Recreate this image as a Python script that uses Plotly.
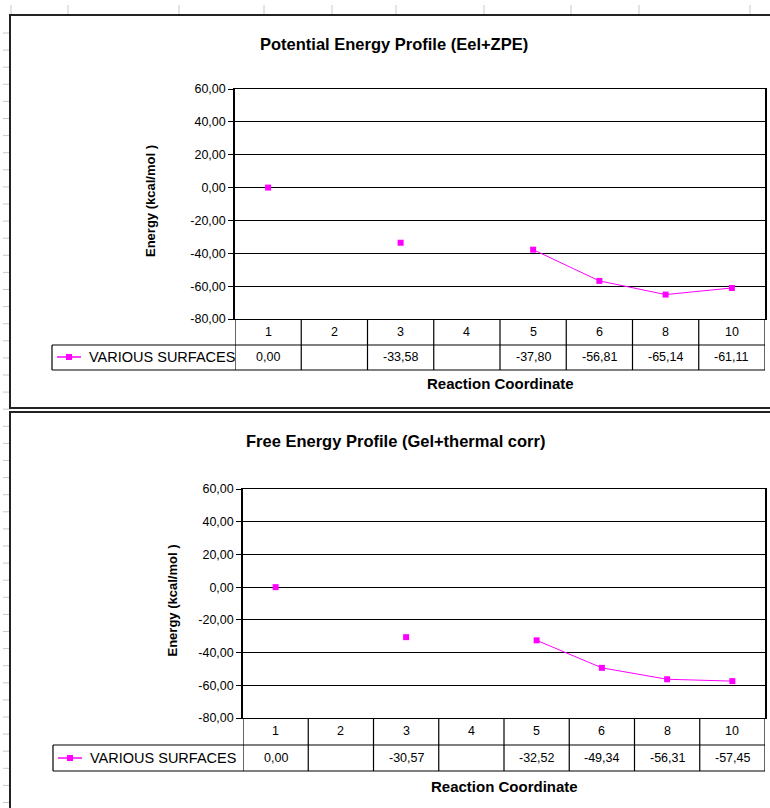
import plotly.graph_objects as go

# ---- data -------------------------------------------------------------
categories = ["1", "2", "3", "4", "5", "6", "8", "10"]
potential_energy = [0.00, None, -33.58, None, -37.80, -56.81, -65.14, -61.11]
free_energy = [0.00, None, -30.57, None, -32.52, -49.34, -56.31, -57.45]
y_ticks = [60, 40, 20, 0, -20, -40, -60, -80]
y_tick_labels = ["60,00", "40,00", "20,00", "0,00", "-20,00", "-40,00", "-60,00", "-80,00"]
series_name = "VARIOUS SURFACES"
titles = ["Potential Energy Profile (Eel+ZPE)", "Free Energy Profile (Gel+thermal corr)"]
x_title = "Reaction Coordinate"
y_title = "Energy (kcal/mol )"

W, H = 770, 808
MAGENTA = "#FF00FF"
FONT = "Liberation Sans, Arial, sans-serif"


def px(x):
    return x / W


def py(y):
    return 1 - y / H


# pixel geometry of each chart block
blocks = [
    dict(frame=(10, 15, 780, 408), title_y=44, title_x=394,
         plot=(235, 89, 765, 319), row_mid=(332, 357), row_bot=370,
         legend_x=52, xt_y=383, yt_x=150, values=potential_energy),
    dict(frame=(10, 412, 780, 820), title_y=441, title_x=396,
         plot=(243, 489, 765, 718), row_mid=(731, 758), row_bot=771,
         legend_x=53, xt_y=786, yt_x=172, values=free_energy),
]


def fmt(v):
    return "" if v is None else f"{v:.2f}".replace(".", ",")


def label(**kw):
    base = dict(showarrow=False, xanchor="center", yanchor="middle")
    base.update(kw)
    return base


fig = go.Figure()
shapes, annotations = [], []
layout_axes = {}

# light spreadsheet cell guides behind the charts
for x in [11, 68, 179, 264, 332, 396, 484, 571, 639, 750]:
    shapes.append(dict(type="line", xref="paper", yref="paper",
                       x0=px(x), x1=px(x), y0=py(5), y1=py(15),
                       line=dict(color="#c8c8c8", width=1), layer="below"))
y = 33
while y < H:
    shapes.append(dict(type="line", xref="paper", yref="paper",
                       x0=px(3), x1=px(10), y0=py(y), y1=py(y),
                       line=dict(color="#c8c8c8", width=1), layer="below"))
    y += 17.1

for k, b in enumerate(blocks):
    n = "" if k == 0 else str(k + 1)
    xa, ya = "x" + n, "y" + n
    l, t, r, bt = b["plot"]

    fig.add_trace(go.Scatter(
        x=categories, y=b["values"], xaxis=xa, yaxis=ya,
        mode="lines+markers", connectgaps=False, name=series_name,
        line=dict(color=MAGENTA, width=1),
        marker=dict(color=MAGENTA, symbol="square", size=6),
        showlegend=False, hoverinfo="skip"))

    layout_axes["xaxis" + n] = dict(
        domain=[px(l), px(r)], anchor=ya, type="category",
        range=[-0.5, len(categories) - 0.5], showticklabels=False,
        showgrid=False, zeroline=False, showline=True, mirror=True,
        linecolor="black", linewidth=1, ticks="", automargin=False)
    layout_axes["yaxis" + n] = dict(
        domain=[py(bt), py(t)], anchor=xa, range=[-80, 60],
        tickvals=y_ticks, ticktext=y_tick_labels,
        showgrid=True, gridcolor="black", gridwidth=1, zeroline=False,
        showline=True, mirror=True, linecolor="black", linewidth=1.5,
        ticks="outside", ticklen=5, tickcolor="black", automargin=False,
        tickfont=dict(family=FONT, size=12.5, color="black"))

    # chart frame
    fx0, fy0, fx1, fy1 = b["frame"]
    shapes.append(dict(type="rect", xref="paper", yref="paper",
                       x0=px(fx0), x1=px(fx1), y0=py(fy0), y1=py(fy1),
                       line=dict(color="#222", width=2), layer="below"))

    # data table below the plot
    hm, dm = b["row_mid"]
    rb = b["row_bot"]
    hb = (hm + dm) / 2 + 0.5  # boundary between header and value rows
    for i in range(len(categories) + 1):
        shapes.append(dict(type="line", xref=xa, yref="paper",
                           x0=i - 0.5, x1=i - 0.5, y0=py(bt), y1=py(rb),
                           line=dict(color="black", width=1.2)))
    for yy in (hb, rb):
        shapes.append(dict(type="line", xref="paper", yref="paper",
                           x0=px(b["legend_x"]), x1=px(r),
                           y0=py(yy), y1=py(yy),
                           line=dict(color="black", width=1.2)))
    shapes.append(dict(type="line", xref="paper", yref="paper",
                       x0=px(b["legend_x"]), x1=px(b["legend_x"]),
                       y0=py(hb), y1=py(rb), line=dict(color="black", width=1.2)))
    for i, (c, v) in enumerate(zip(categories, b["values"])):
        annotations.append(label(xref=xa, yref="paper", x=i, y=py(hm), text=c,
                                 font=dict(family=FONT, size=12.5, color="black")))
        annotations.append(label(xref=xa, yref="paper", x=i, y=py(dm), text=fmt(v),
                                 font=dict(family=FONT, size=12.5, color="black")))

    # legend key inside the table's first cell
    lx = b["legend_x"]
    shapes.append(dict(type="line", xref="paper", yref="paper",
                       x0=px(lx + 5), x1=px(lx + 29), y0=py(dm), y1=py(dm),
                       line=dict(color=MAGENTA, width=1.5)))
    shapes.append(dict(type="rect", xref="paper", yref="paper",
                       x0=px(lx + 14), x1=px(lx + 20), y0=py(dm - 3), y1=py(dm + 3),
                       fillcolor=MAGENTA, line=dict(width=0)))
    annotations.append(label(xref="paper", yref="paper", x=px(lx + 35), y=py(dm),
                             xanchor="left", text=series_name,
                             font=dict(family=FONT, size=14.5, color="black")))

    # titles
    annotations.append(label(xref="paper", yref="paper", x=px(b["title_x"]),
                             y=py(b["title_y"]), text="<b>" + titles[k] + "</b>",
                             font=dict(family=FONT, size=16.5, color="black")))
    annotations.append(label(xref=xa, yref="paper", x=(len(categories) - 1) / 2,
                             y=py(b["xt_y"]), text="<b>" + x_title + "</b>",
                             font=dict(family=FONT, size=15, color="black")))
    annotations.append(label(xref="paper", yref="paper", x=px(b["yt_x"]),
                             y=py((t + bt) / 2 - 3), text="<b>" + y_title + "</b>",
                             textangle=-90,
                             font=dict(family=FONT, size=13, color="black")))

fig.update_layout(
    width=W, height=H, margin=dict(l=0, r=0, t=0, b=0, autoexpand=False),
    paper_bgcolor="white", plot_bgcolor="white",
    shapes=shapes, annotations=annotations, showlegend=False,
    **layout_axes)

fig.write_html("out.html")
